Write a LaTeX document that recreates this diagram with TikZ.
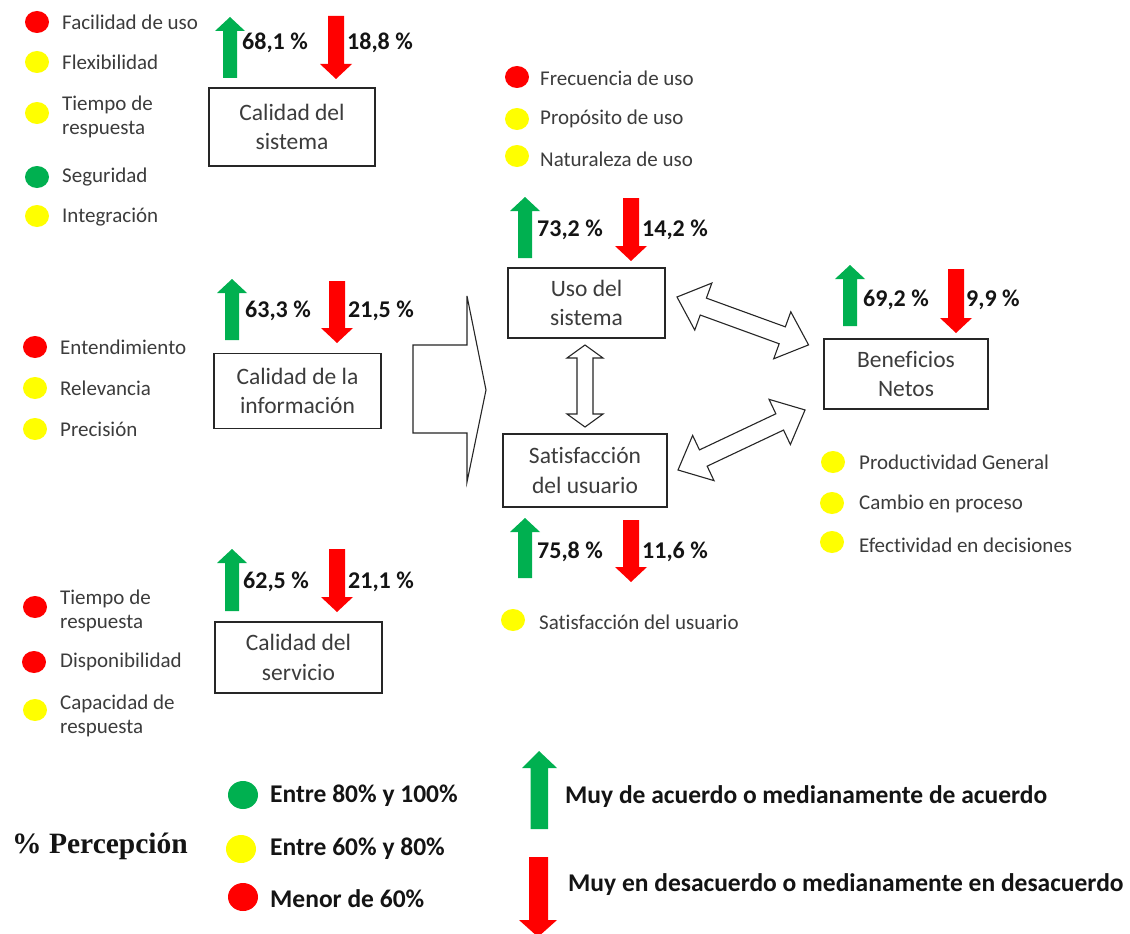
\documentclass[tikz,border=0pt]{standalone}
\usepackage{fontspec}
\setmainfont{Carlito}[Ligatures=CommonOff]
\newfontfamily\timesfont{Liberation Serif}
\definecolor{gArr}{RGB}{0,176,80}
\definecolor{rArr}{RGB}{255,0,0}
\definecolor{yDot}{RGB}{255,255,0}
\definecolor{txtc}{RGB}{60,60,60}
\definecolor{darktxt}{RGB}{20,20,20}
% up green arrow: x, tip y, bottom y
\newcommand\upgreen[3]{\fill[gArr] (#1-7,#3) -- (#1-7,#2+14) -- (#1-15,#2+14) -- (#1,#2) -- (#1+15,#2+14) -- (#1+7,#2+14) -- (#1+7,#3) -- cycle;}
% down red arrow: x, top y, tip y
\newcommand\downred[3]{\fill[rArr] (#1-8,#2) -- (#1+8,#2) -- (#1+8,#3-15) -- (#1+16,#3-15) -- (#1,#3) -- (#1-16,#3-15) -- (#1-8,#3-15) -- cycle;}
% coloured dot: colour, x, y
\newcommand\ldot[3]{\fill[#1] (#2,#3) ellipse [x radius=12pt, y radius=11pt];}
\newcommand\bigdot[3]{\fill[#1] (#2,#3) ellipse [x radius=15pt, y radius=14pt];}
% double block arrow along local x: length, head half width, shaft half width, head length
\newcommand\dblarrow[4]{\draw[blockarrow] (0,0) -- (#4,-#2) -- (#4,-#3) -- (#1-#4,-#3) -- (#1-#4,-#2) -- (#1,0) -- (#1-#4,#2) -- (#1-#4,#3) -- (#4,#3) -- (#4,#2) -- cycle;}
\begin{document}
\begin{tikzpicture}[x=1pt,y=-1pt,
  box/.style={draw=black!85, line width=1.2pt, inner sep=0pt, align=center, text=txtc, font=\fontsize{23.5}{29.5}\selectfont},
  lbl/.style={anchor=west, inner sep=0pt, align=left, text=txtc, font=\fontsize{21}{24}\selectfont},
  pct/.style={anchor=west, inner sep=0pt, text=darktxt, font=\bfseries\fontsize{24}{28}\selectfont},
  leg/.style={anchor=west, inner sep=0pt, text=darktxt, font=\bfseries\fontsize{25.5}{30}\selectfont},
  blockarrow/.style={draw=black!85, fill=white, line width=1.1pt, line join=miter}]
\fill[white] (0,0) rectangle (1130,934);
\useasboundingbox (0,0) rectangle (1130,934);

% ---------- Calidad del sistema ----------
\ldot{rArr}{37}{22}
\ldot{yDot}{37}{62}
\ldot{yDot}{37}{113}
\ldot{gArr}{37}{177}
\ldot{yDot}{37}{216}
\node[lbl] (s1) at (62,22) {Facilidad de uso};
\node[lbl] (s2) at (62,62) {Flexibilidad};
\node[lbl] (s3) at (62,117) {Tiempo de\\respuesta};
\node[lbl] (s4) at (62,177) {Seguridad};
\node[lbl] (s5) at (62,217) {Integración};
\node[box, minimum width=166pt, minimum height=78pt] (cs) at (292,127) {Calidad del\\sistema};
\upgreen{230}{17}{78}
\downred{336}{16}{79}
\node[pct] (csu) at (242,43) {68,1 \%};
\node[pct] (csd) at (347,43) {18,8 \%};

% ---------- Calidad de la informacion ----------
\ldot{rArr}{35}{347}
\ldot{yDot}{35}{388}
\ldot{yDot}{35}{429}
\node[lbl] (i1) at (60,347) {Entendimiento};
\node[lbl] (i2) at (60,388) {Relevancia};
\node[lbl] (i3) at (60,429) {Precisión};
\node[box, minimum width=167pt, minimum height=75pt] (ci) at (297.5,391) {Calidad de la\\información};
\upgreen{232}{279}{340}
\downred{337}{281}{343}
\node[pct] (ciu) at (245,311) {63,3 \%};
\node[pct] (cid) at (348,311) {21,5 \%};

% ---------- Calidad del servicio ----------
\ldot{rArr}{35}{607}
\ldot{rArr}{34}{662}
\ldot{yDot}{35}{710}
\node[lbl] (v1) at (60,611) {Tiempo de\\respuesta};
\node[lbl] (v2) at (60,662) {Disponibilidad};
\node[lbl] (v3) at (60,716) {Capacidad de\\respuesta};
\node[box, minimum width=167pt, minimum height=71pt] (cv) at (298.5,657.5) {Calidad del\\servicio};
\upgreen{232}{549}{611}
\downred{337}{549}{612}
\node[pct] (cvu) at (243,582) {62,5 \%};
\node[pct] (cvd) at (348,582) {21,1 \%};

% ---------- big block arrow ----------
\draw[blockarrow] (413,345) -- (467,345) -- (467,296) -- (486,390) -- (467,482) -- (467,433) -- (413,433) -- cycle;

% ---------- Uso del sistema ----------
\ldot{rArr}{517}{77}
\ldot{yDot}{517}{119}
\ldot{yDot}{517}{156}
\node[lbl] (u1) at (540,78) {Frecuencia de uso};
\node[lbl] (u2) at (540,119) {Propósito de uso};
\node[lbl] (u3) at (540,159) {Naturaleza de uso};
\node[box, minimum width=157pt, minimum height=70pt] (uso) at (586.5,303) {Uso del\\sistema};
\upgreen{525}{197}{258}
\downred{631}{198}{261}
\node[pct] (usou) at (537,230) {73,2 \%};
\node[pct] (usod) at (642,230) {14,2 \%};

% ---------- Satisfaccion del usuario ----------
\node[box, minimum width=164pt, minimum height=73pt] (sat) at (585,470.5) {Satisfacción\\del usuario};
\upgreen{525}{518}{578}
\downred{631}{520}{582}
\node[pct] (satu) at (537,552) {75,8 \%};
\node[pct] (satd) at (642,552) {11,6 \%};
\ldot{yDot}{513}{620}
\node[lbl] (t1) at (539,622) {Satisfacción del usuario};

% ---------- Beneficios Netos ----------
\node[box, minimum width=164pt, minimum height=70pt] (ben) at (906,374) {Beneficios\\Netos};
\upgreen{850}{265}{326}
\downred{956}{269}{333}
\node[pct] (benu) at (863,300) {69,2 \%};
\node[pct] (bend) at (966,300) {9,9 \%};
\ldot{yDot}{833}{462}
\ldot{yDot}{832}{503}
\ldot{yDot}{832}{542}
\node[lbl] (b1) at (859,462) {Productividad General};
\node[lbl] (b2) at (859,504) {Cambio en proceso};
\node[lbl] (b3) at (859,545) {Efectividad en decisiones};

% ---------- double block arrows ----------
\begin{scope}[shift={(585,345)}, rotate=-90]
  \dblarrow{82}{18}{8}{13}
\end{scope}
\begin{scope}[shift={(677,297)}, rotate=-20]
  \dblarrow{140}{25}{9}{28}
\end{scope}
\begin{scope}[shift={(678,470)}, rotate=25.3]
  \dblarrow{140.5}{25}{9}{28}
\end{scope}

% ---------- legend ----------
\node[anchor=west, inner sep=0pt, text=darktxt, font=\timesfont\bfseries\fontsize{29.5}{33}\selectfont] (perc) at (12,846) {\% Percepción};
\bigdot{gArr}{243}{795}
\bigdot{yDot}{241}{849}
\bigdot{rArr}{243}{897}
\node[leg] (l1) at (270,796) {Entre 80\% y 100\%};
\node[leg] (l2) at (270,849) {Entre 60\% y 80\%};
\node[leg] (l3) at (270,899) {Menor de 60\%};
\fill[gArr] (530.5,829) -- (530.5,768) -- (522,768) -- (539,751) -- (557,768) -- (548,768) -- (548,829) -- cycle;
\fill[rArr] (529,857) -- (548,857) -- (548,920) -- (557,920) -- (538,937) -- (519,920) -- (529,920) -- cycle;
\node[leg] (l4) at (565,797) {Muy de acuerdo o medianamente de acuerdo};
\node[leg] (l5) at (568,885) {Muy en desacuerdo o medianamente en desacuerdo};
\end{tikzpicture}
\end{document}
